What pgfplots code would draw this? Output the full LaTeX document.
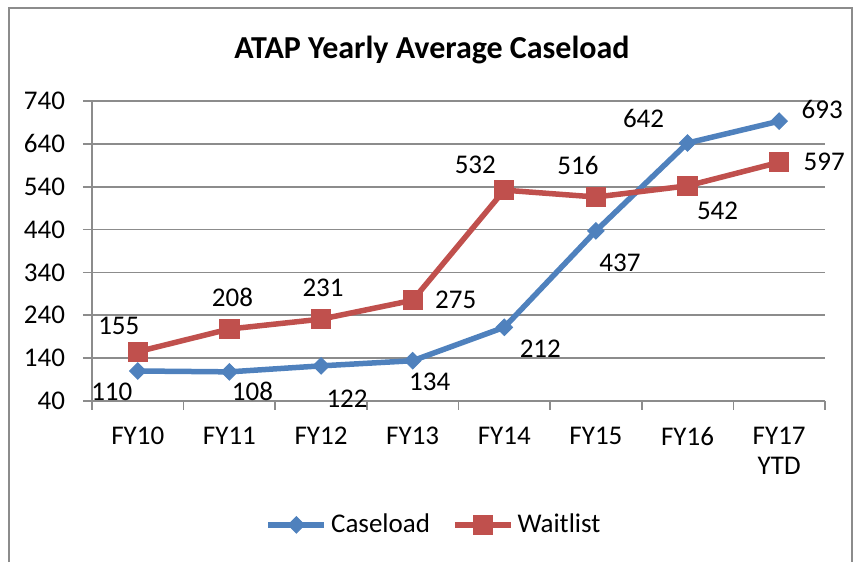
\documentclass[border=0pt]{standalone}
\usepackage{pgfplots}
\pgfplotsset{compat=1.18}
\usepackage{pgfplotstable}
\usepackage{fontspec}
\setmainfont{Carlito}
\definecolor{cblue}{HTML}{4F81BD}
\definecolor{cred}{HTML}{C0504D}
\definecolor{gridgray}{HTML}{8C8C8C}
\pgfplotstableread{
x y dx dy
0 110 -13 -10.5
1 108 11.5 -10
2 122 13 -16.5
3 134 8.5 -10.5
4 212 18 -10.5
5 437 12 -16
6 642 -22 12.5
7 693 21.5 6
}\caseload
\pgfplotstableread{
x y dx dy
0 155 -9.5 13
1 208 1.5 16
2 231 1 15.5
3 275 21.5 0
4 532 -14.5 12.5
5 516 -9 16
6 542 15 -12.5
7 597 22.5 0
}\waitlist
\begin{document}
\begin{tikzpicture}[x=1pt,y=1pt]
\path[use as bounding box] (0,0) rectangle (428,281);
\draw[gridgray, line width=1pt] (4.5,0) -- (4.5,277) -- (426,277) -- (426,0);
\node[font=\fontsize{16}{19}\selectfont\bfseries] at (216,256) {ATAP Yearly Average Caseload};
\begin{axis}[
  at={(46pt,80.5pt)}, anchor=south west,
  scale only axis, width=366.5pt, height=150pt,
  xmin=-0.5, xmax=7.5, ymin=40, ymax=740,
  axis lines=left, axis line style={-, gridgray, line width=0.8pt},
  tick align=outside, major tick length=4.5pt,
  tick style={gridgray, line width=0.8pt},
  xtick={-0.5,0.5,...,7.5},
  x tick label as interval=true,
  xticklabels={FY10,FY11,FY12,FY13,FY14,FY15,FY16,{FY17\\YTD}},
  xticklabel style={align=center, yshift=-5pt},
  yticklabel style={xshift=-5.5pt},
  ytick={40,140,...,740},
  ymajorgrids, grid style={gridgray, line width=0.8pt},
  /pgf/number format/assume math mode=true,
  /pgf/number format/1000 sep={},
  tick label style={font=\fontsize{13.5}{15}\selectfont, text=black},
  clip=false,
  legend columns=2,
  legend style={at={(0.468,-0.413)}, anchor=center, draw=none, fill=none,
    font=\fontsize{13.5}{15}\selectfont,
    /tikz/every even column/.append style={column sep=9pt},
    inner sep=0pt},
  legend image code/.code={\draw[mark repeat=2,mark phase=2] plot coordinates {(0pt,0pt) (14pt,0pt) (28pt,0pt)};},
  nodes near coords,
  point meta=explicit,
  visualization depends on={\thisrow{dx}\as\dx},
  visualization depends on={\thisrow{dy}\as\dy},
  every node near coord/.append style={anchor=center, xshift=\dx pt, yshift=\dy pt, text=black, font=\fontsize{13.5}{15}\selectfont},
]
\addplot[cblue, line width=2.75pt, mark=square*, mark size=2.9pt,
  mark options={rotate=45, solid, line width=0.5pt, fill=cblue}]
  table[x=x, y=y, meta=y] {\caseload};
\addlegendentry{Caseload}
\addplot[cred, line width=2.75pt, mark=square*, mark size=4.8pt,
  mark options={solid, line width=0.5pt, fill=cred}]
  table[x=x, y=y, meta=y] {\waitlist};
\addlegendentry{Waitlist}
\end{axis}
\end{tikzpicture}
\end{document}
